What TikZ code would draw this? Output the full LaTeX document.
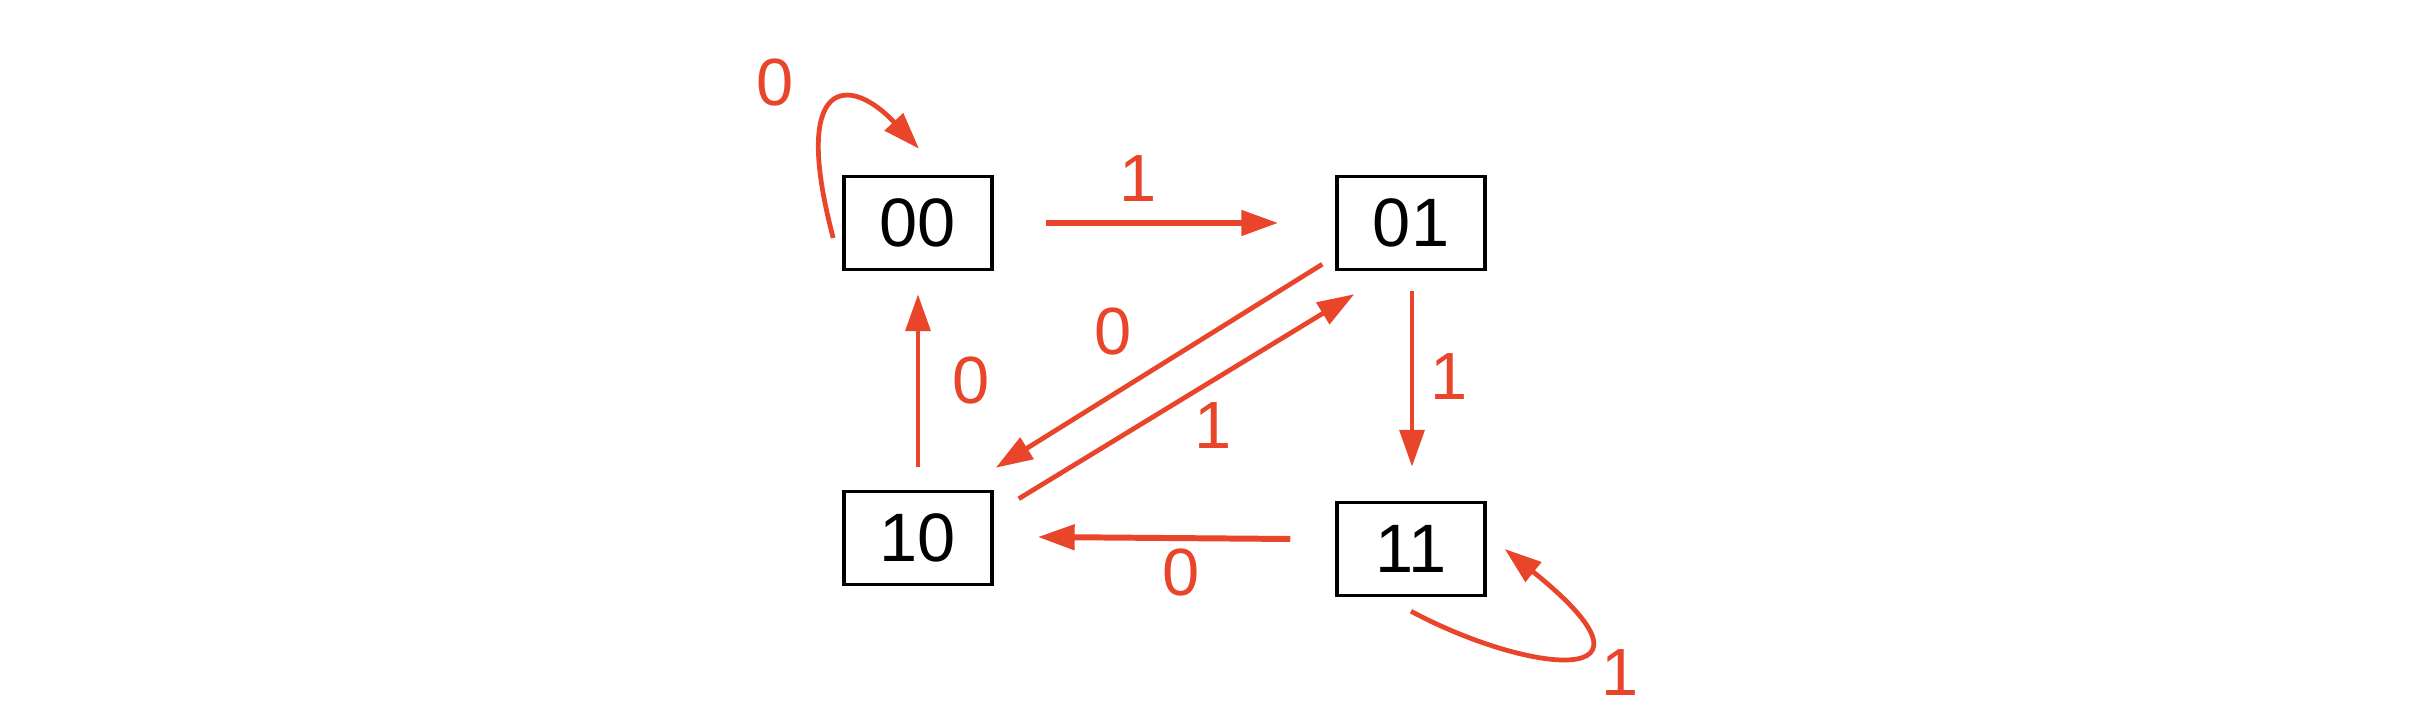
\documentclass[tikz,border=0pt]{standalone}
\usepackage{fontspec}
\setmainfont{Liberation Sans}
\usetikzlibrary{arrows.meta,calc}
\definecolor{edgered}{RGB}{233,69,42}
\begin{document}
\begin{tikzpicture}[
  state/.style={draw=black, line width=1pt, minimum width=1.48cm, minimum height=0.93cm, inner sep=0pt, font=\fontsize{19.5}{22}\selectfont},
  edge/.style={draw=edgered, line width=1.35pt, -{Triangle[length=10.5pt 0 0,width=7pt 0 0]}},
  thickedge/.style={edge, line width=1.7pt},
  lab/.style={text=edgered, font=\fontsize{19}{22}\selectfont, inner sep=0pt}
]
\useasboundingbox (0,0) rectangle (24.15,7.25);
\fill[white] (0,0) rectangle (24.15,7.25);
\node[state] (n00) at (9.18,5.02) {00};
\node[state] (n01) at (14.11,5.02) {01};
\node[state] (n10) at (9.18,1.87) {10};
\node[state] (n11) at (14.11,1.76) {11};
% 00 -> 01
\draw[thickedge] ($(n00.east)+(0.52,0)$) -- ($(n01.west)+(-0.57,0)$);
\node[lab] (l1) at (11.38,5.46) {1};
% 10 -> 00
\draw[edge] ($(n10.north)+(0,0.23)$) -- ($(n00.south)+(0,-0.23)$);
\node[lab] (l2) at (9.71,3.44) {0};
% 01 -> 11
\draw[edge] ($(n01.south)+(0.01,-0.20)$) -- ($(n11.north)+(0.01,0.34)$);
\node[lab] (l3) at (14.49,3.48) {1};
% 11 -> 10
\draw[thickedge] ($(n11.west)+(-0.45,0.10)$) -- ($(n10.east)+(0.44,0.01)$);
\node[lab] (l4) at (11.81,1.52) {0};
% 01 -> 10
\draw[edge] ($(n01.south west)+(-0.13,0.07)$) -- ($(n10.north east)+(0.02,0.22)$);
\node[lab] (l5) at (11.13,3.93) {0};
% 10 -> 01
\draw[edge] ($(n10.north east)+(0.25,-0.09)$) -- ($(n01.south west)+(0.19,-0.23)$);
\node[lab] (l6) at (12.13,2.99) {1};
% self loop 00
\draw[edge] ($(n00.west)+(-0.09,-0.15)$) .. controls (7.9,6.5) and (8.5,6.5) .. ($(n00.north)+(0.01,0.26)$);
\node[lab] (l7) at (7.75,6.42) {0};
% self loop 11
\draw[edge] ($(n11.south)+(0,-0.14)$) .. controls (15.3,0.5) and (16.8,0.35) .. ($(n11.east)+(0.18,0)$);
\node[lab] (l8) at (16.20,0.52) {1};
\end{tikzpicture}
\end{document}
